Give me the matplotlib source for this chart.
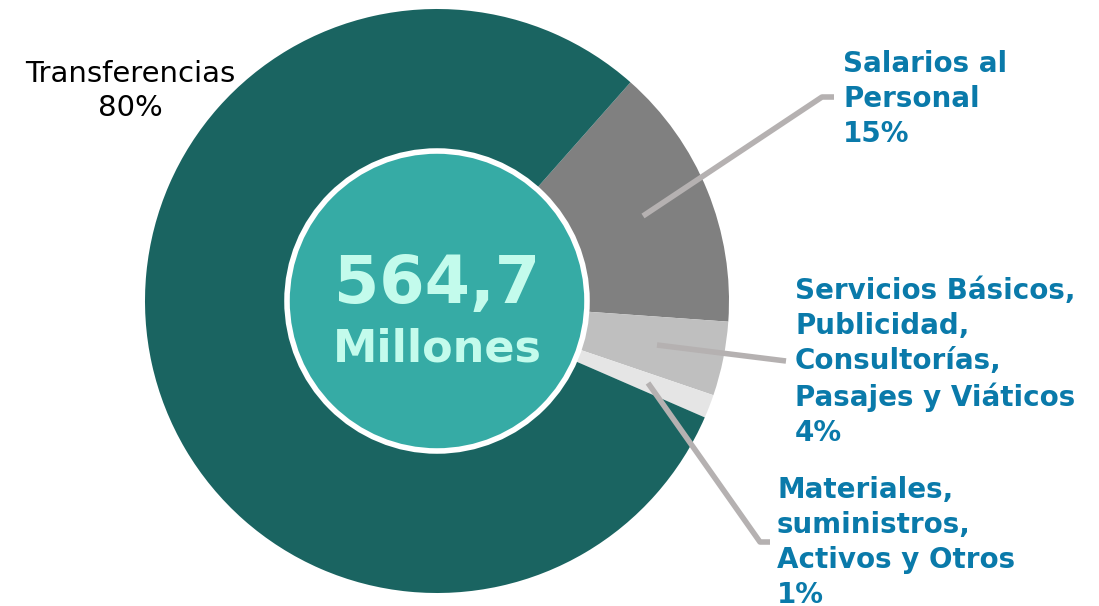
import matplotlib
matplotlib.use('Agg')
import matplotlib.pyplot as plt
from matplotlib.patches import Circle

# datos del gráfico (porcentaje del presupuesto)
categorias = ['Salarios al\nPersonal', 'Servicios Básicos,\nPublicidad,\nConsultorías,\nPasajes y Viáticos',
              'Materiales,\nsuministros,\nActivos y Otros', 'Transferencias']
porcentajes = [14.6, 4.1, 1.3, 80.0]
etiquetas_pct = ['15%', '4%', '1%', '80%']
colores = ['#808080', '#bfbfbf', '#e5e5e5', '#1a6461']
total = '564,7'
unidad = 'Millones'

W, H = 1099, 606
fig = plt.figure(figsize=(W / 100, H / 100), dpi=100)
ax = fig.add_axes([0, 0, 1, 1])

def Y(y):  # coordenada de pixel (desde arriba) -> datos
    return H - y

cx, cy, r = 437, Y(301), 292
ax.pie(porcentajes, colors=colores, startangle=48.5, counterclock=False,
       center=(cx, cy), radius=r, wedgeprops=dict(linewidth=0))
ax.add_patch(Circle((cx, cy), 150, facecolor='#36aba5', edgecolor='white', linewidth=4, zorder=5))

ax.text(cx, Y(303), total, ha='center', va='baseline', fontsize=47, fontweight='heavy',
        color='#c3fbec', family='DejaVu Sans', zorder=6)
ax.text(cx, Y(362), unidad, ha='center', va='baseline', fontsize=32, fontweight='bold',
        color='#c3fbec', family='DejaVu Sans', zorder=6)

# líneas guía
gris = '#b5b1b1'
ax.plot([643, 822, 834], [Y(216), Y(97), Y(97)], color=gris, lw=4, solid_capstyle='butt')
ax.plot([657, 786], [Y(345), Y(361)], color=gris, lw=4, solid_capstyle='butt')
ax.plot([648, 760, 770], [Y(383), Y(542), Y(542)], color=gris, lw=4, solid_capstyle='butt')

azul = '#0a7aaa'
kw = dict(ha='left', va='top', fontsize=20, fontweight='bold', color=azul, linespacing=1.32)
ax.text(843, Y(50), categorias[0] + '\n' + etiquetas_pct[0], **kw)
ax.text(795, Y(277), categorias[1] + '\n' + etiquetas_pct[1], **kw)
ax.text(777, Y(476), categorias[2] + '\n' + etiquetas_pct[2], **kw)
ax.text(130, Y(60), categorias[3] + '\n' + etiquetas_pct[3], ha='center', va='top', fontsize=21,
        color='black', linespacing=1.25)

ax.set_xlim(0, W)
ax.set_ylim(0, H)
ax.set_aspect('auto')
ax.axis('off')

fig.savefig('out.png', dpi=100)
